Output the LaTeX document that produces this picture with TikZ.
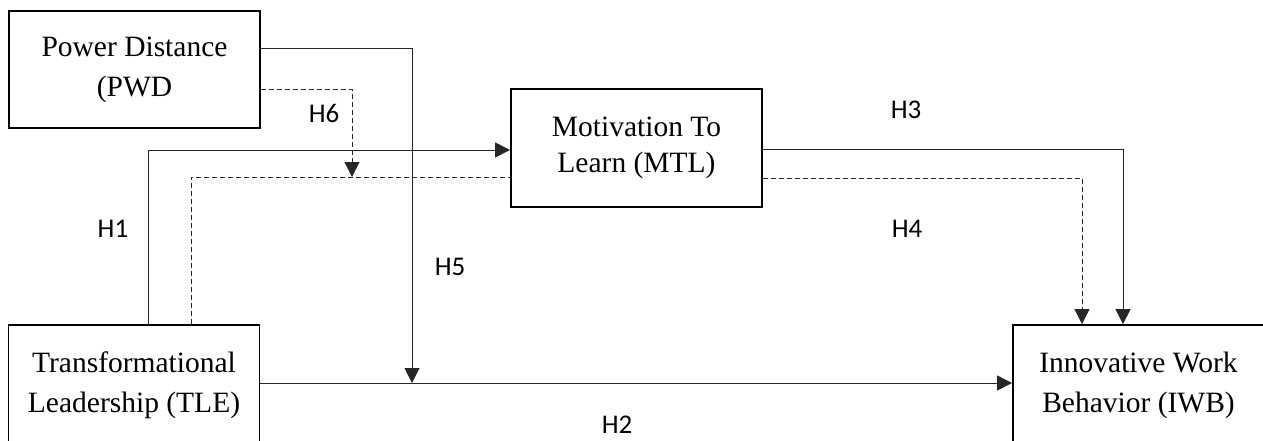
\documentclass[tikz,border=0pt]{standalone}
\usepackage{fontspec}
\setmainfont{Liberation Serif}
\newfontfamily\labfont{Carlito}
\usetikzlibrary{arrows.meta}
\begin{document}
\begin{tikzpicture}[x=1pt,y=-1pt,
  box/.style={draw=black, line width=1.8pt, rectangle, minimum width=251pt, align=center,
              font=\fontsize{29.5}{40}\selectfont, inner sep=0pt},
  conn/.style={line width=1pt, draw=black!85},
  arr/.style={conn, -{Triangle[width=15pt,length=15pt]}},
  dsh/.style={dash pattern=on 5pt off 3pt},
  hlab/.style={font=\labfont\fontsize{27}{27}\selectfont, inner sep=0pt}]
\path[use as bounding box] (0,0) rectangle (1263,440);
\clip (0,0) rectangle (1263,440);

\node[box, minimum height=117pt] (pwd) at (134.5,69.5) {Power Distance\\(PWD};
\node[box, minimum height=118pt, font=\fontsize{29.5}{36}\selectfont] (mtl) at (636.5,148) {Motivation To\\Learn (MTL)};
\node[box, minimum height=120pt] (tle) at (134,385) {Transformational\\Leadership (TLE)};
\node[box, minimum height=120pt] (iwb) at (1138.5,385) {Innovative Work\\Behavior (IWB)};

% PWD -> TLE-IWB path (H5)
\coordinate (h5end) at (412,383);
\draw[arr] (pwd.east |- 0,48) -| (h5end);
% PWD dashed -> TLE-MTL path (H6)
\coordinate (h6end) at (352,177);
\draw[arr, dsh] (pwd.east |- 0,89) -| (h6end);
% TLE -> MTL (H1)
\draw[arr] (tle.north -| 148,0) |- (mtl.west |- 0,150);
% TLE dashed -> MTL
\draw[conn, dsh] (tle.north -| 191,0) |- (mtl.west |- 0,177);
% TLE -> IWB (H2)
\draw[arr] (tle.east |- 0,383) -- (iwb.west |- 0,383);
% MTL -> IWB (H3)
\draw[arr] (mtl.east |- 0,149) -| (iwb.north -| 1123,0);
% MTL dashed -> IWB (H4)
\draw[arr, dsh] (mtl.east |- 0,178) -| (iwb.north -| 1082,0);

\node[hlab] (h1) at (113,229) {H1};
\node[hlab] (h2) at (617,425) {H2};
\node[hlab] (h3) at (906,110) {H3};
\node[hlab] (h4) at (907,229) {H4};
\node[hlab] (h5) at (450,267) {H5};
\node[hlab] (h6) at (324,113) {H6};
\end{tikzpicture}
\end{document}
